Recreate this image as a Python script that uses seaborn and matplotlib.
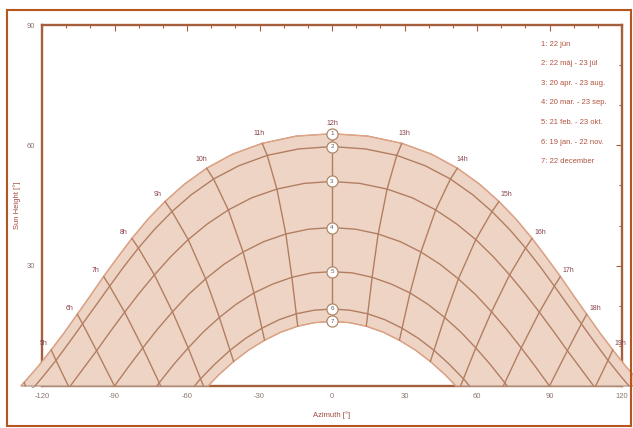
import numpy as np
import pandas as pd
import matplotlib
matplotlib.use("Agg")
import matplotlib.pyplot as plt
from matplotlib.patches import Rectangle
from matplotlib.ticker import MultipleLocator
import seaborn as sns

sns.set_theme(style="white")
plt.rcParams['font.family'] = ['Liberation Sans', 'DejaVu Sans']
plt.rcParams['axes.unicode_minus'] = False

# Sun path: solar time [h], azimuth [deg], sun height [deg]
t1 = [3.88, 4, 4.5, 5, 5.5, 6, 6.5, 7, 7.5, 8, 8.5, 9, 9.5, 10, 10.5, 11, 11.5, 12,
      12.5, 13, 13.5, 14, 14.5, 15, 15.5, 16, 16.5, 17, 17.5, 18, 18.5, 19, 19.5, 20, 20.12]
az1 = [-128.7, -127.4, -121.7, -116.2, -110.8, -105.4, -100.0, -94.5, -88.8, -82.8, -76.3, -69.1,
       -61.1, -51.9, -41.2, -28.9, -14.9, 0.0, 14.9, 28.9, 41.2, 51.9, 61.1, 69.1, 76.3, 82.8,
       88.8, 94.5, 100.0, 105.4, 110.8, 116.2, 121.7, 127.4, 128.7]
alt1 = [0.0, 0.9, 4.8, 9.0, 13.3, 17.9, 22.5, 27.3, 32.0, 36.8, 41.5, 46.0, 50.3, 54.3, 57.8, 60.5,
        62.3, 62.9, 62.3, 60.5, 57.8, 54.3, 50.3, 46.0, 41.5, 36.8, 32.0, 27.3, 22.5, 17.9, 13.3,
        9.0, 4.8, 0.9, 0.0]

t2 = [4.23, 4.5, 5, 5.5, 6, 6.5, 7, 7.5, 8, 8.5, 9, 9.5, 10, 10.5, 11, 11.5, 12,
      12.5, 13, 13.5, 14, 14.5, 15, 15.5, 16, 16.5, 17, 17.5, 18, 18.5, 19, 19.5, 19.77]
az2 = [-122.9, -119.8, -114.2, -108.7, -103.2, -97.7, -92.0, -86.2, -80.1, -73.5, -66.2, -58.2,
       -49.0, -38.6, -26.8, -13.8, 0.0, 13.8, 26.8, 38.6, 49.0, 58.2, 66.2, 73.5, 80.1, 86.2,
       92.0, 97.7, 103.2, 108.7, 114.2, 119.8, 122.9]
alt2 = [0.0, 2.2, 6.4, 10.9, 15.5, 20.1, 24.9, 29.7, 34.4, 39.0, 43.5, 47.7, 51.6, 54.9, 57.5,
        59.1, 59.7, 59.1, 57.5, 54.9, 51.6, 47.7, 43.5, 39.0, 34.4, 29.7, 24.9, 20.1, 15.5, 10.9,
        6.4, 2.2, 0.0]

t3 = [5.05, 5.5, 6, 6.5, 7, 7.5, 8, 8.5, 9, 9.5, 10, 10.5, 11, 11.5, 12,
      12.5, 13, 13.5, 14, 14.5, 15, 15.5, 16, 16.5, 17, 17.5, 18, 18.5, 18.95]
az3 = [-108.3, -103.1, -97.4, -91.7, -85.8, -79.8, -73.5, -66.8, -59.5, -51.6, -42.9, -33.3,
       -22.8, -11.6, 0.0, 11.6, 22.8, 33.3, 42.9, 51.6, 59.5, 66.8, 73.5, 79.8, 85.8, 91.7,
       97.4, 103.1, 108.3]
alt3 = [0.0, 4.2, 8.8, 13.6, 18.4, 23.1, 27.7, 32.2, 36.5, 40.4, 43.9, 46.9, 49.1, 50.5, 51.0,
        50.5, 49.1, 46.9, 43.9, 40.4, 36.5, 32.2, 27.7, 23.1, 18.4, 13.6, 8.8, 4.2, 0.0]

t4 = [6, 6.5, 7, 7.5, 8, 8.5, 9, 9.5, 10, 10.5, 11, 11.5, 12,
      12.5, 13, 13.5, 14, 14.5, 15, 15.5, 16, 16.5, 17, 17.5, 18]
az4 = [-90.0, -84.2, -78.3, -72.3, -66.0, -59.4, -52.3, -44.8, -36.8, -28.2, -19.1, -9.7, 0.0,
       9.7, 19.1, 28.2, 36.8, 44.8, 52.3, 59.4, 66.0, 72.3, 78.3, 84.2, 90.0]
alt4 = [0.0, 4.8, 9.5, 14.1, 18.5, 22.8, 26.7, 30.3, 33.4, 36.0, 37.9, 39.1, 39.5,
        39.1, 37.9, 36.0, 33.4, 30.3, 26.7, 22.8, 18.5, 14.1, 9.5, 4.8, 0.0]

t5 = [6.91, 7, 7.5, 8, 8.5, 9, 9.5, 10, 10.5, 11, 11.5, 12,
      12.5, 13, 13.5, 14, 14.5, 15, 15.5, 16, 16.5, 17, 17.09]
az5 = [-72.5, -71.5, -65.6, -59.5, -53.2, -46.6, -39.6, -32.3, -24.6, -16.6, -8.4, 0.0,
       8.4, 16.6, 24.6, 32.3, 39.6, 46.6, 53.2, 59.5, 65.6, 71.5, 72.5]
alt5 = [0.0, 0.8, 5.3, 9.5, 13.5, 17.1, 20.4, 23.2, 25.4, 27.1, 28.2, 28.5,
        28.2, 27.1, 25.4, 23.2, 20.4, 17.1, 13.5, 9.5, 5.3, 0.8, 0.0]

t6 = [7.78, 8, 8.5, 9, 9.5, 10, 10.5, 11, 11.5, 12,
      12.5, 13, 13.5, 14, 14.5, 15, 15.5, 16, 16.22]
az6 = [-56.9, -54.4, -48.4, -42.2, -35.7, -29.0, -22.0, -14.8, -7.4, 0.0,
       7.4, 14.8, 22.0, 29.0, 35.7, 42.2, 48.4, 54.4, 56.9]
alt6 = [0.0, 1.8, 5.5, 8.9, 11.9, 14.4, 16.5, 18.0, 18.9, 19.2,
        18.9, 18.0, 16.5, 14.4, 11.9, 8.9, 5.5, 1.8, 0.0]

t7 = [8.11, 8.5, 9, 9.5, 10, 10.5, 11, 11.5, 12,
      12.5, 13, 13.5, 14, 14.5, 15, 15.5, 15.89]
az7 = [-51.3, -46.8, -40.7, -34.4, -27.9, -21.2, -14.2, -7.1, 0.0,
       7.1, 14.2, 21.2, 27.9, 34.4, 40.7, 46.8, 51.3]
alt7 = [0.0, 2.8, 6.1, 9.0, 11.4, 13.4, 14.9, 15.8, 16.1,
        15.8, 14.9, 13.4, 11.4, 9.0, 6.1, 2.8, 0.0]

# where an hour line meets the horizon
end_hours = [4, 5, 6, 7, 8, 16, 17, 18, 19, 20]
end_az = [-126.8, -109.1, -90.0, -70.9, -53.2, 53.2, 70.9, 90.0, 109.1, 126.8]

line_hours = list(range(4, 21))
label_hours = list(range(5, 20))
date_ids = [1, 2, 3, 4, 5, 6, 7]
legend_labels = ["1: 22 jún", "2: 22 máj - 23 júl", "3: 20 apr. - 23 aug.",
                 "4: 20 mar. - 23 sep.", "5: 21 feb. - 23 okt.", "6: 19 jan. - 22 nov.",
                 "7: 22 december"]

paths = pd.concat([
    pd.DataFrame({'date': d, 'time': t, 'az': a, 'alt': h})
    for d, t, a, h in zip(date_ids, [t1, t2, t3, t4, t5, t6, t7],
                          [az1, az2, az3, az4, az5, az6, az7],
                          [alt1, alt2, alt3, alt4, alt5, alt6, alt7])
], ignore_index=True)

# colours
spine_col = '#a55f3d'
fill_col = '#eed4c5'
edge_col = '#b89c8e'
grid_col = '#b27e62'
outer_col = '#eea27c'

fig = plt.figure(figsize=(6.33, 4.28), dpi=100)
ax = fig.add_axes([42 / 633, 42 / 428, 580 / 633, 361 / 428])
ax.set_xlim(-120, 120)
ax.set_ylim(0, 90)

# band between 22 jun and 22 dec
june = paths[paths.date == 1]
dec = paths[paths.date == 7]
ax.fill(np.r_[june.az.values, dec.az.values[::-1]], np.r_[june.alt.values, dec.alt.values[::-1]],
        facecolor=fill_col, edgecolor=edge_col, lw=1.0, zorder=3, clip_on=False)

# inner date curves
sns.lineplot(data=paths[paths.date.between(2, 6)], x='az', y='alt', units='date',
             estimator=None, sort=False, color=grid_col, lw=1.0, ax=ax, legend=False, zorder=4)
for d in [1, 7]:
    sub = paths[paths.date == d]
    ax.plot(sub.az, sub.alt, color=outer_col, lw=0.7, zorder=4)

# hour lines
for h in line_hours:
    pts = paths[paths.time == h].sort_values('date')
    xs, ys = list(pts.az), list(pts.alt)
    if h in end_hours:
        xs.append(end_az[end_hours.index(h)])
        ys.append(0.0)
    ax.plot(xs, ys, color=grid_col, lw=1.0, zorder=4)

for line in ax.lines:
    line.set_clip_on(False)

# noon markers with date numbers
noon = paths[paths.time == 12].sort_values('date')
ax.plot(noon.az, noon.alt, 'o', ms=8, mfc='white', mec='#b08868', mew=0.9, zorder=6, clip_on=False)
for d, a, h in zip(noon.date, noon.az, noon.alt):
    ax.text(a, h, str(d), fontsize=4.5, color='#6a5a55', ha='center', va='center', zorder=7)

# hour labels outside the 22 jun curve
fig.canvas.draw()
jpx = ax.transData.transform(np.c_[june.az.values, june.alt.values])
jt = june.time.values
for h in label_hours:
    i = int(np.where(jt == h)[0][0])
    tx, ty = jpx[i + 1] - jpx[i - 1]
    nx, ny = -ty, tx
    n = np.hypot(nx, ny)
    off = np.array([nx, ny]) / n * 10
    ax.annotate(f"{h}h", xy=(june.az.values[i], june.alt.values[i]),
                xytext=(off[0] * 72 / 100, off[1] * 72 / 100), textcoords='offset points',
                fontsize=5, color='#8a4048', ha='center', va='center', zorder=7,
                annotation_clip=False)

# axes frame and ticks
for s in ax.spines.values():
    s.set_color(spine_col)
    s.set_linewidth(1.7)
    s.set_zorder(2)
ax.xaxis.set_major_locator(MultipleLocator(30))
ax.xaxis.set_minor_locator(MultipleLocator(10))
ax.yaxis.set_major_locator(MultipleLocator(30))
ax.yaxis.set_minor_locator(MultipleLocator(10))
ax.tick_params(which='both', direction='in', top=True, right=True, color=spine_col,
               labelsize=5.5, labelcolor='#8c7670', width=0.8)
ax.tick_params(which='major', length=4, pad=5)
ax.tick_params(which='minor', length=2)
ax.set_xlabel("Azimuth [°]", fontsize=5.5, color='#a04c3c', labelpad=8)
ax.set_ylabel("Sun Height [°]", fontsize=5.5, color='#a04c3c', labelpad=4)
ax.set_facecolor('white')

# legend text
for i, lab in enumerate(legend_labels):
    fig.text(541 / 633, 1 - (44 + 19.6 * i) / 428, lab, fontsize=5.5, color='#b0553f', va='center')

# page frame
fig.add_artist(Rectangle((7 / 633, 2 / 428), 624 / 633, 416 / 428, transform=fig.transFigure,
                         fill=False, ec='#b5561f', lw=1.5))

fig.savefig("out.png", dpi=100)
